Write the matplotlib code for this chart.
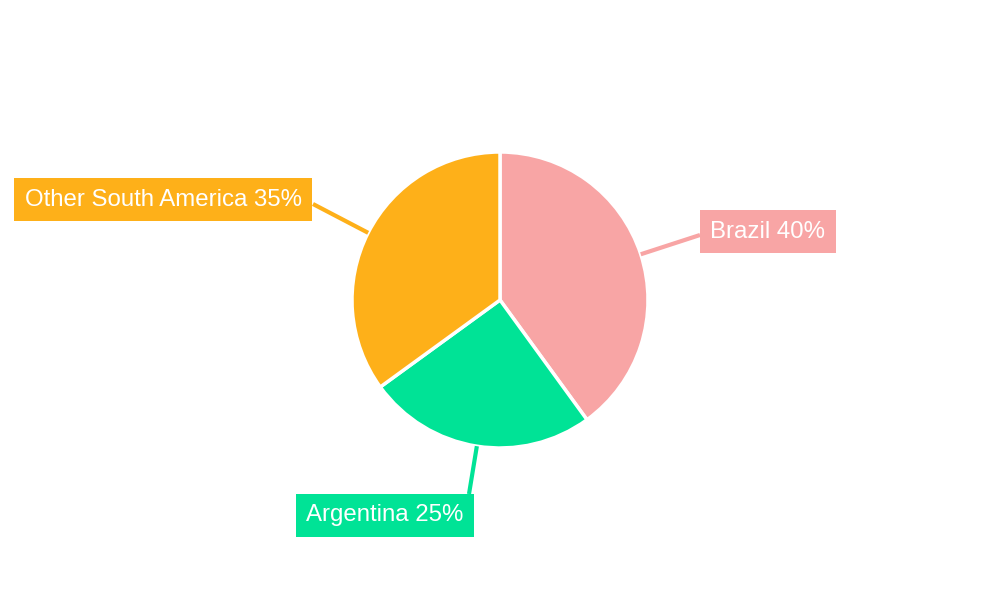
import matplotlib

matplotlib.use("Agg")
import matplotlib.pyplot as plt
import numpy as np
from matplotlib import font_manager

# Slice data (clockwise from 12 o'clock)
labels = ["Brazil", "Argentina", "Other South America"]
shares = [40, 25, 35]
colors = ["#F8A5A5", "#00E396", "#FEB019"]

# Label box anchors in pixel coords (x, y from top) and leader line ends
box_anchor = [(700, 231.5), (296, 515.5), (312, 199.5)]
box_ha = ["left", "left", "right"]
line_end = [(700, 235), (469, 494), (313, 204)]

W, H = 1000, 600
CX, CY, R = 500, 300, 148
FS = 17.3
PAD = 0.43

# pick the regular (not Narrow) Liberation Sans file explicitly
reg = [f for f in font_manager.findSystemFonts() if f.endswith("LiberationSans-Regular.ttf")]
if reg:
    fp = font_manager.FontProperties(fname=reg[0], size=FS)
else:
    fp = font_manager.FontProperties(family="DejaVu Sans", size=16)

fig = plt.figure(figsize=(W / 100, H / 100), dpi=100)
ax = fig.add_axes([0, 0, 1, 1])
ax.set_xlim(0, W)
ax.set_ylim(0, H)
ax.set_aspect("equal")
ax.axis("off")

wedges, _ = ax.pie(
    shares,
    colors=colors,
    startangle=90,
    counterclock=False,
    center=(CX, H - CY),
    radius=R,
    wedgeprops={"edgecolor": "white", "linewidth": 2.5},
)
ax.set_xlim(0, W)
ax.set_ylim(0, H)

pad_px = PAD * FS * 100 / 72
for w, lab, share, col, anc, ha, end in zip(
    wedges, labels, shares, colors, box_anchor, box_ha, line_end
):
    mid = np.deg2rad((w.theta1 + w.theta2) / 2)
    sx, sy = CX + R * np.cos(mid), (H - CY) + R * np.sin(mid)
    ax.plot([sx, end[0]], [sy, H - end[1]], color=col, lw=3, solid_capstyle="butt", zorder=1)
    x = anc[0] + pad_px if ha == "left" else anc[0] - pad_px
    ax.text(
        x,
        H - anc[1],
        f"{lab} {share}%",
        ha=ha,
        va="center",
        color="white",
        fontproperties=fp,
        bbox=dict(boxstyle=f"square,pad={PAD}", facecolor=col, edgecolor="none"),
        zorder=3,
    )

fig.savefig("out.png", dpi=100)
